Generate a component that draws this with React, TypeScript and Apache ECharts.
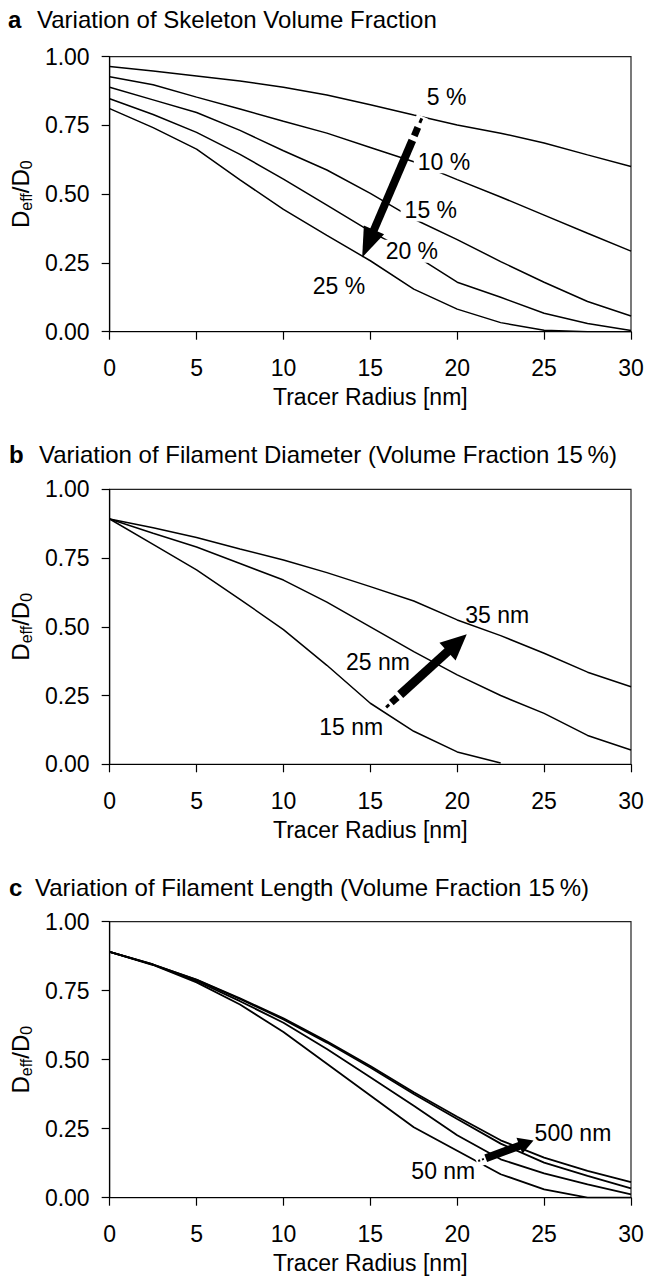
import React, { useEffect, useRef } from "react";
import * as echarts from "echarts";

const FONT = '"Liberation Sans", Arial, Helvetica, sans-serif';

// Tracer radius grid (nm)
const radius = [0, 2.5, 5, 7.5, 10, 12.5, 15, 17.5, 20, 22.5, 25, 27.5, 30];
const xTickLabels = ["0", "5", "10", "15", "20", "25", "30"];
const yTickLabels = ["0.00", "0.25", "0.50", "0.75", "1.00"];

// Panel a: skeleton volume fraction
const a5 = [0.964, 0.948, 0.93, 0.912, 0.889, 0.861, 0.825, 0.788, 0.752, 0.722, 0.686, 0.643, 0.601];
const a10 = [0.927, 0.898, 0.853, 0.81, 0.765, 0.722, 0.67, 0.618, 0.553, 0.49, 0.424, 0.358, 0.293];
const a15 = [0.889, 0.843, 0.797, 0.732, 0.658, 0.588, 0.503, 0.41, 0.335, 0.255, 0.18, 0.11, 0.057];
const a20 = [0.847, 0.79, 0.725, 0.645, 0.555, 0.46, 0.365, 0.28, 0.18, 0.125, 0.067, 0.03, 0.004];
const a25 = [0.811, 0.742, 0.664, 0.552, 0.445, 0.35, 0.258, 0.155, 0.082, 0.033, 0.005, 0, 0];

// Panel b: filament diameter
const b35 = [0.892, 0.86, 0.825, 0.783, 0.743, 0.697, 0.646, 0.594, 0.525, 0.468, 0.404, 0.335, 0.282];
const b25 = [0.892, 0.84, 0.79, 0.73, 0.67, 0.59, 0.5, 0.41, 0.325, 0.25, 0.185, 0.105, 0.052];
const b15 = [0.892, 0.8, 0.707, 0.6, 0.49, 0.36, 0.222, 0.12, 0.045, 0.005];

// Panel c: filament length
const c500 = [0.891, 0.845, 0.79, 0.722, 0.65, 0.567, 0.477, 0.382, 0.293, 0.208, 0.145, 0.097, 0.056];
const c250 = [0.891, 0.845, 0.789, 0.72, 0.646, 0.562, 0.472, 0.376, 0.285, 0.196, 0.127, 0.079, 0.034];
const c100 = [0.891, 0.844, 0.785, 0.712, 0.634, 0.539, 0.436, 0.333, 0.226, 0.139, 0.088, 0.048, 0.012];
const c50 = [0.891, 0.843, 0.78, 0.7, 0.6, 0.485, 0.37, 0.255, 0.17, 0.085, 0.03, 0, 0];

// Annotation labels [x, y, text]
const labelsA: [number, number, string][] = [
  [19.39, 0.852, "5 %"],
  [19.24, 0.618, "10 %"],
  [18.48, 0.443, "15 %"],
  [17.39, 0.293, "20 %"],
  [13.2, 0.166, "25 %"],
];
const labelsB: [number, number, string][] = [
  [22.3, 0.543, "35 nm"],
  [15.44, 0.371, "25 nm"],
  [13.9, 0.137, "15 nm"],
];
const labelsC: [number, number, string][] = [
  [26.66, 0.234, "500 nm"],
  [19.2, 0.098, "50 nm"],
];

// Arrows [x start, y start, x tip, y tip]
const arrowA = [17.96, 0.776, 14.53, 0.27];
const arrowB = [15.91, 0.207, 20.55, 0.473];
const arrowC = [21.21, 0.133, 24.39, 0.207];

const titles = [
  { letter: "a", text: "Variation of Skeleton Volume Fraction", lx: 8, tx: 37, y: 19.5 },
  { letter: "b", text: "Variation of Filament Diameter (Volume Fraction 15\u2009%)", lx: 9, tx: 39, y: 454 },
  { letter: "c", text: "Variation of Filament Length (Volume Fraction 15\u2009%)", lx: 9, tx: 35, y: 887 },
];

const grids = [
  { top: 56.7, height: 275 },
  { top: 489.3, height: 275 },
  { top: 921.7, height: 276 },
];

function pairs(ys: number[]) {
  return ys.map((y, i) => [radius[i], y]);
}

function arrowRenderer(shaft: number, headW: number, headLen: number, dashes: number[][], shaftStart: number) {
  return (params: any, api: any) => {
    const s = api.coord([api.value(0), api.value(1)]);
    const t = api.coord([api.value(2), api.value(3)]);
    const dx = t[0] - s[0];
    const dy = t[1] - s[1];
    const L = Math.hypot(dx, dy);
    const ux = dx / L, uy = dy / L;
    const nx = -uy, ny = ux;
    const pt = (d: number, off: number) => [s[0] + ux * d + nx * off, s[1] + uy * d + ny * off];
    const seg = (a: number, b: number, w: number, fill: string) => ({
      type: "polygon",
      shape: { points: [pt(a, w / 2), pt(b, w / 2), pt(b, -w / 2), pt(a, -w / 2)] },
      style: { fill },
    });
    const children: any[] = [seg(-2, shaftStart, shaft + 4, "#fff")];
    dashes.forEach(([a, b, w]) => children.push(seg(a, b, w, "#000")));
    children.push(seg(shaftStart, L - headLen + 1, shaft, "#000"));
    children.push({
      type: "polygon",
      shape: { points: [pt(L, 0), pt(L - headLen, headW / 2), pt(L - headLen, -headW / 2)] },
      style: { fill: "#000" },
    });
    return { type: "group", children };
  };
}

export default function App() {
  const ref = useRef<HTMLDivElement>(null);

  useEffect(() => {
    document.body.style.margin = "0";
    if (!ref.current) return;
    const chart = echarts.init(ref.current, undefined, { renderer: "svg" });

    const axisLine = { show: true, onZero: false, lineStyle: { color: "#000", width: 1.2 } };
    const axisTick = { show: true, inside: false, length: 8, lineStyle: { color: "#000", width: 1.2 } };
    const txt = { fontFamily: FONT, color: "#000" };

    const xAxis = grids.map((_, i) => ({
      type: "value",
      gridIndex: i,
      min: 0,
      max: 30,
      interval: 5,
      axisLine,
      axisTick,
      splitLine: { show: false },
      axisLabel: { ...txt, fontSize: 23, margin: 25, formatter: (v: number) => xTickLabels[Math.round(v / 5)] },
      name: "Tracer Radius [nm]",
      nameLocation: "middle",
      nameGap: 54,
      nameTextStyle: { ...txt, fontSize: 23 },
    }));

    const yAxis = grids.map((_, i) => ({
      type: "value",
      gridIndex: i,
      min: 0,
      max: 1,
      interval: 0.25,
      axisLine,
      axisTick,
      splitLine: { show: false },
      axisLabel: { ...txt, fontSize: 23, margin: 20, formatter: (v: number) => yTickLabels[Math.round(v / 0.25)] },
      name: "{m|D}{s|eff}{m|/D}{s|0}",
      nameLocation: "middle",
      nameRotate: 90,
      nameGap: 70,
      nameTextStyle: {
        ...txt,
        fontSize: 23,
        rich: {
          m: { ...txt, fontSize: 24, lineHeight: 28 },
          s: { ...txt, fontSize: 16, padding: [12, 0, 0, 0] },
        },
      },
    }));

    const lineSeries = (name: string, ys: number[], gi: number, width: number) => ({
      type: "line",
      name,
      xAxisIndex: gi,
      yAxisIndex: gi,
      data: pairs(ys),
      symbol: "none",
      smooth: false,
      lineStyle: { color: "#000", width },
      z: 2,
      silent: true,
    });

    const labelSeries = (labels: [number, number, string][], gi: number, bg: string) => ({
      type: "scatter",
      xAxisIndex: gi,
      yAxisIndex: gi,
      data: labels.map((l) => ({ value: [l[0], l[1]], name: l[2] })),
      symbolSize: 0,
      itemStyle: { color: "#000", opacity: 1 },
      label: {
        show: true,
        position: "inside",
        formatter: "{b}",
        fontFamily: FONT,
        color: "#000",
        opacity: 1,
        textBorderWidth: 0,
        fontSize: 23,
        backgroundColor: bg,
        padding: [0, 4],
      },
      z: 3,
      silent: true,
    });

    const arrowSeries = (arr: number[], gi: number, r: any) => ({
      type: "custom",
      xAxisIndex: gi,
      yAxisIndex: gi,
      data: [arr],
      encode: { x: [0, 2], y: [1, 3] },
      renderItem: r,
      z: 4,
      silent: true,
    });

    const graphic: any[] = [];
    titles.forEach((t) => {
      graphic.push({
        type: "text",
        x: t.lx,
        y: t.y,
        style: { text: t.letter, font: `bold 24px ${FONT}`, fill: "#000", verticalAlign: "middle", align: "left" },
      });
      graphic.push({
        type: "text",
        x: t.tx,
        y: t.y,
        style: { text: t.text, font: `24px ${FONT}`, fill: "#000", verticalAlign: "middle", align: "left" },
      });
    });

    const option: any = {
      animation: false,
      backgroundColor: "#fff",
      grid: grids.map((g) => ({
        left: 105.3,
        width: 525.7,
        top: g.top,
        height: g.height,
        show: true,
        borderColor: "#222",
        borderWidth: 1.2,
        backgroundColor: "transparent",
        containLabel: false,
      })),
      xAxis,
      yAxis,
      graphic,
      series: [
        lineSeries("5 %", a5, 0, 1.5),
        lineSeries("10 %", a10, 0, 1.5),
        lineSeries("15 %", a15, 0, 1.5),
        lineSeries("20 %", a20, 0, 1.5),
        lineSeries("25 %", a25, 0, 1.5),
        labelSeries(labelsA, 0, "#fff"),
        arrowSeries(arrowA, 0, arrowRenderer(8, 22, 30, [[0, 5, 3], [10, 19, 7]], 24)),

        lineSeries("35 nm", b35, 1, 1.5),
        lineSeries("25 nm", b25, 1, 1.5),
        lineSeries("15 nm", b15, 1, 1.5),
        labelSeries(labelsB, 1, "transparent"),
        arrowSeries(arrowB, 1, arrowRenderer(9, 24, 26, [[0, 4, 3], [7, 15, 7]], 19)),

        lineSeries("500 nm", c500, 2, 1.8),
        lineSeries("250 nm", c250, 2, 1.8),
        lineSeries("100 nm", c100, 2, 1.8),
        lineSeries("50 nm", c50, 2, 1.8),
        labelSeries(labelsC, 2, "transparent"),
        arrowSeries(arrowC, 2, arrowRenderer(8, 17, 15, [[0, 2, 2], [4, 6, 2]], 8)),
      ],
    };

    chart.setOption(option);
    return () => chart.dispose();
  }, []);

  return <div ref={ref} style={{ width: 648, height: 1280 }} />;
}
